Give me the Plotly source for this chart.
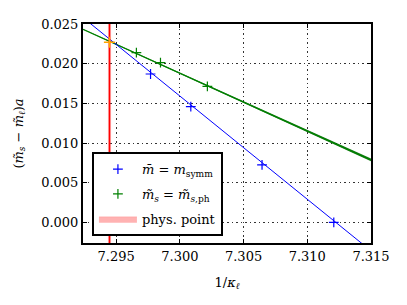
import plotly.graph_objects as go

# data
blue_x = [7.2977, 7.30086, 7.30645, 7.31208]
blue_y = [0.0187, 0.01459, 0.00724, 0.0000]
green_x = [7.29659, 7.29848, 7.30216]
green_y = [0.02139, 0.02013, 0.01715]
phys_x = [7.29448]
phys_y = [0.0227]
fit_x = [7.2924, 7.315]
blue_fit_y = [0.02581, -0.00359]
green_fit_y = [0.02433, 0.00787]
green_fit_err = [0.00003, 0.00018]
phys_halfwidth = 0.00009

x_ticks = [7.295, 7.300, 7.305, 7.310, 7.315]
y_ticks = [0.000, 0.005, 0.010, 0.015, 0.020, 0.025]

FONT = "DejaVu Serif"

fig = go.Figure()

up = [g + e for g, e in zip(green_fit_y, green_fit_err)]
lo = [g - e for g, e in zip(green_fit_y, green_fit_err)]
fig.add_trace(go.Scatter(x=fit_x + fit_x[::-1], y=up + lo[::-1], fill="toself",
                         fillcolor="rgba(0,110,0,0.9)", line=dict(width=0),
                         mode="lines", showlegend=False, hoverinfo="skip"))
fig.add_trace(go.Scatter(x=fit_x, y=green_fit_y, mode="lines",
                         line=dict(color="green", width=1.3), showlegend=False))
fig.add_trace(go.Scatter(x=fit_x, y=blue_fit_y, mode="lines",
                         line=dict(color="blue", width=1), showlegend=False))

px0 = phys_x[0] - phys_halfwidth
px1 = phys_x[0] + phys_halfwidth
fig.add_trace(go.Scatter(x=[px0, px1, px1, px0, px0], y=[-0.01, -0.01, 0.03, 0.03, -0.01],
                         fill="toself", fillcolor="rgba(255,0,0,0.3)",
                         line=dict(color="rgba(255,120,120,0.5)", width=0.5),
                         mode="lines", name="phys. point", legendgroup="c"))
fig.add_trace(go.Scatter(x=[phys_x[0], phys_x[0]], y=[-0.01, 0.03], mode="lines",
                         line=dict(color="red", width=1.5), showlegend=False))

fig.add_trace(go.Scatter(x=blue_x, y=blue_y, mode="markers",
                         marker=dict(symbol="cross-thin", size=7, line=dict(color="blue", width=1.2)),
                         name="<i>m̄</i> = <i>m</i><sub>symm</sub>", legendgroup="a"))
fig.add_trace(go.Scatter(x=green_x, y=green_y, mode="markers",
                         marker=dict(symbol="cross-thin", size=7, line=dict(color="green", width=1.2)),
                         name="<i>m̃</i><sub><i>s</i></sub> = <i>m̃</i><sub><i>s</i>,ph</sub>", legendgroup="b"))
fig.add_trace(go.Scatter(x=phys_x, y=phys_y, mode="markers",
                         marker=dict(symbol="cross-thin", size=8, line=dict(color="orange", width=1.5)),
                         showlegend=False))

fig.data[3].legendrank = 3
fig.data[5].legendrank = 1
fig.data[6].legendrank = 2

axis_common = dict(showline=True, linecolor="black", linewidth=2, mirror="ticks",
                   ticks="inside", ticklen=4, tickcolor="black", tickwidth=1,
                   showgrid=True, gridcolor="#333333", griddash="1.5px,3px", gridwidth=1,
                   zeroline=False, automargin=False,
                   tickfont=dict(family=FONT, size=13, color="black"))

fig.update_xaxes(range=[7.2924, 7.315], tickvals=x_ticks, tickformat=".3f",
                 title=dict(text="1/<i>κ</i><sub><i>ℓ</i></sub>", font=dict(family=FONT, size=13, color="black")),
                 **axis_common)
fig.update_yaxes(range=[-0.0026, 0.025], tickvals=y_ticks, tickformat=".3f",
                 title=dict(text="(<i>m̃</i><sub><i>s</i></sub> − <i>m̃</i><sub><i>ℓ</i></sub>)<i>a</i>",
                            font=dict(family=FONT, size=13, color="black")),
                 **axis_common)

fig.update_layout(
    width=407, height=305,
    margin=dict(l=83, r=36, t=24, b=62),
    paper_bgcolor="white", plot_bgcolor="white",
    font=dict(family=FONT, size=13, color="black"),
    legend=dict(x=0.031, y=0.415, xanchor="left", yanchor="top",
                bordercolor="black", borderwidth=2, bgcolor="white",
                font=dict(family=FONT, size=13, color="black"),
                itemwidth=38, traceorder="grouped", tracegroupgap=5),
    showlegend=True,
)

fig.write_html("out.html", config={"displayModeBar": False},
               post_script="document.body.style.margin='0';")
